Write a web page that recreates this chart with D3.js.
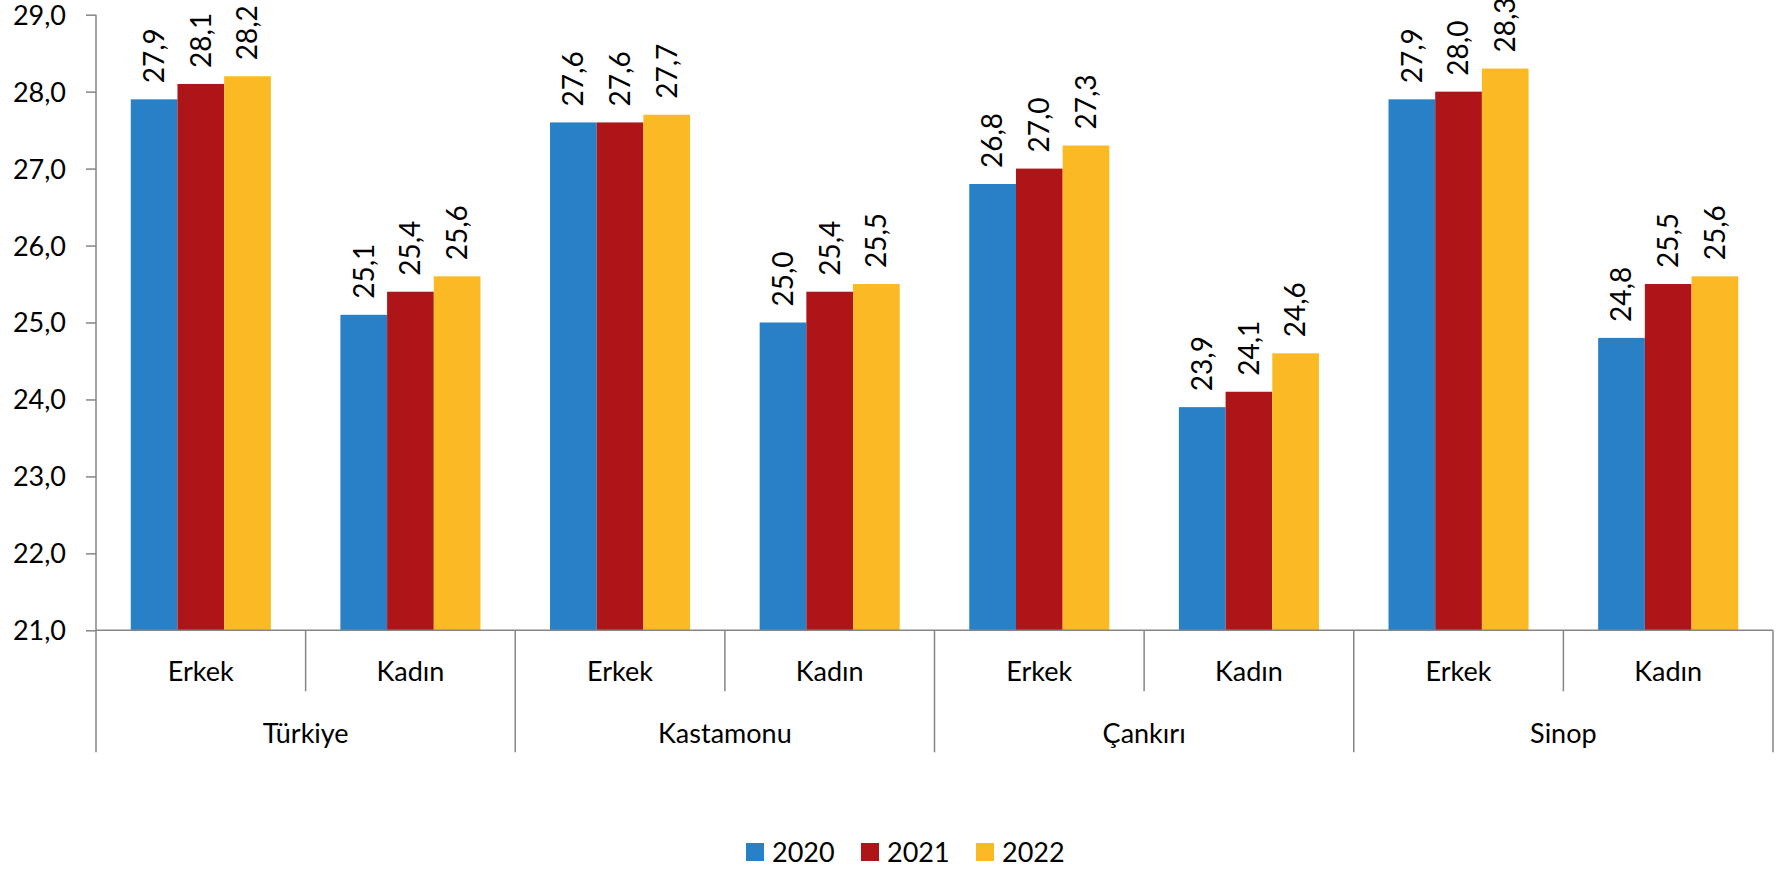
<!DOCTYPE html>
<html><head><meta charset="utf-8">
<script src="https://cdn.jsdelivr.net/npm/d3@7/dist/d3.min.js"></script>
<style>body{margin:0;background:#fff;} text{font-family:Lato, "Open Sans", sans-serif;fill:#000;}</style>
</head><body><svg id="c" width="1779" height="869"></svg>
<script>
const regions = ["Türkiye","Kastamonu","Çankırı","Sinop"];
const sexes = ["Erkek","Kadın"];
const years = ["2020","2021","2022"];
const colors = ["#2880C6","#AD1519","#FBBA24"];
const v2020 = [27.9,25.1, 27.6,25.0, 26.8,23.9, 27.9,24.8];
const v2021 = [28.1,25.4, 27.6,25.4, 27.0,24.1, 28.0,25.5];
const v2022 = [28.2,25.6, 27.7,25.5, 27.3,24.6, 28.3,25.6];
const yTicks = [21,22,23,24,25,26,27,28,29];

const series = [v2020,v2021,v2022];
const cats = [];
regions.forEach(r=>sexes.forEach(s=>cats.push(r+"|"+s)));
const fmt = v => d3.format(".1f")(v).replace(".",",");

const svg = d3.select("#c");
const L=96, R=1773, T=14.7, B=630.3;
const x = d3.scaleBand().domain(cats).range([L,R]).paddingInner(0).paddingOuter(0);
const xi = d3.scaleBand().domain(years).range([0,x.bandwidth()]).paddingInner(0).paddingOuter(0.745);
const y = d3.scaleLinear().domain([21,29]).range([B,T]);
const axisCol = "#868686";

// y axis
const ya = svg.append("g").attr("transform",`translate(${L},0)`)
  .call(d3.axisLeft(y).tickValues(yTicks).tickSize(10).tickFormat(fmt));
ya.select(".domain").remove();
ya.selectAll(".tick line").attr("stroke",axisCol).attr("stroke-width",1.5);
ya.selectAll(".tick text").attr("x",-30).attr("dy","0.35em").style("font-family","Lato, sans-serif").style("font-size","27px").attr("fill","#000");
svg.append("line").attr("x1",L).attr("x2",L).attr("y1",T).attr("y2",B+122).attr("stroke",axisCol).attr("stroke-width",1.5);

// bars
const g = svg.append("g");
series.forEach((vals,si)=>{
  g.selectAll(null).data(cats).enter().append("rect")
    .attr("x",c=>x(c)+xi(years[si]))
    .attr("width",xi.bandwidth())
    .attr("y",(c,i)=>y(vals[i]))
    .attr("height",(c,i)=>B-y(vals[i]))
    .attr("fill",colors[si]);
  g.selectAll(null).data(cats).enter().append("text")
    .attr("transform",(c,i)=>`translate(${x(c)+xi(years[si])+xi.bandwidth()/2},${y(vals[i])-16}) rotate(-90)`)
    .attr("dy","0.35em").attr("text-anchor","start")
    .style("font-size","28px")
    .text((c,i)=>fmt(vals[i]));
});

// x axis
svg.append("line").attr("x1",L).attr("x2",R).attr("y1",B).attr("y2",B).attr("stroke",axisCol).attr("stroke-width",1.5);
cats.forEach((c,i)=>{
  const xr = x(c)+x.bandwidth();
  const outer = (i%2===1);
  svg.append("line").attr("x1",xr).attr("x2",xr).attr("y1",B).attr("y2",outer?B+122:B+61).attr("stroke",axisCol).attr("stroke-width",1.5);
  svg.append("text").attr("x",x(c)+x.bandwidth()/2).attr("y",B+51).attr("text-anchor","middle")
    .style("font-size","27px").text(c.split("|")[1]);
});
regions.forEach((r,ri)=>{
  const x0 = x(r+"|"+sexes[0]), x1 = x(r+"|"+sexes[1])+x.bandwidth();
  svg.append("text").attr("x",(x0+x1)/2).attr("y",B+113).attr("text-anchor","middle")
    .style("font-size","27px").text(r);
});

// legend
const legX = [746,861,976];
years.forEach((yr,i)=>{
  svg.append("rect").attr("x",legX[i]).attr("y",843).attr("width",18).attr("height",18).attr("fill",colors[i]);
  svg.append("text").attr("x",legX[i]+26).attr("y",862).style("font-size","27px").text(yr);
});
</script></body></html>
